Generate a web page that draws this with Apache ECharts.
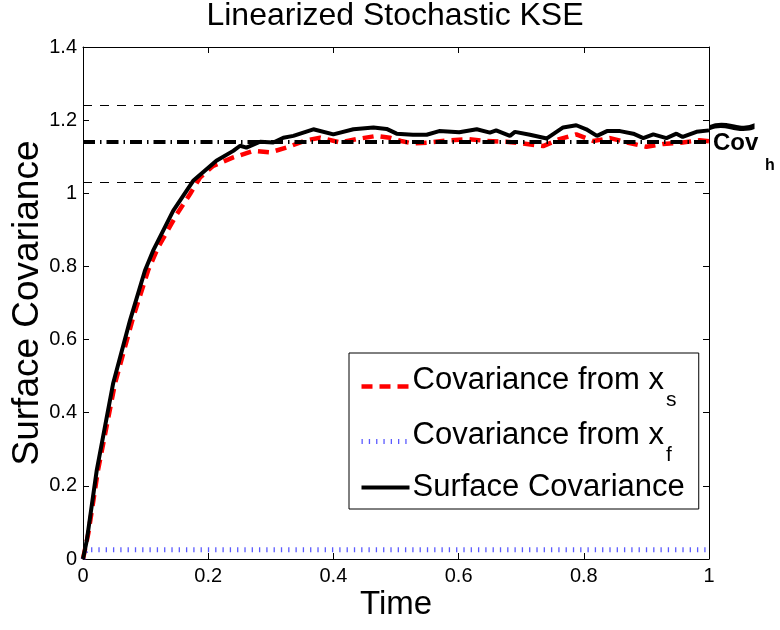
<!DOCTYPE html>
<html>
<head>
<meta charset="utf-8">
<script src="https://cdn.jsdelivr.net/npm/echarts@6/dist/echarts.min.js"></script>
<style>
  html, body { margin: 0; padding: 0; background: #fff; }
  #chart { width: 780px; height: 630px; }
</style>
</head>
<body>
<div id="chart"></div>
<script>
// Surface covariance of the linearized stochastic KSE over time
const timeSurface = [0, 0.006, 0.022, 0.048, 0.075, 0.099, 0.112, 0.144, 0.176, 0.213, 0.24, 0.251, 0.261,
  0.283, 0.304, 0.32, 0.336, 0.368, 0.4, 0.432, 0.464, 0.485, 0.501, 0.527, 0.549, 0.569, 0.601, 0.629,
  0.65, 0.66, 0.682, 0.69, 0.714, 0.741, 0.767, 0.788, 0.804, 0.821, 0.837, 0.858, 0.879, 0.895, 0.911,
  0.932, 0.948, 0.958, 0.98, 1.0];
const covSurface = [0, 0.05, 0.243, 0.479, 0.652, 0.789, 0.843, 0.952, 1.034, 1.089, 1.116, 1.13, 1.125,
  1.141, 1.139, 1.152, 1.157, 1.175, 1.161, 1.175, 1.18, 1.176, 1.163, 1.16, 1.16, 1.17, 1.167, 1.175,
  1.166, 1.172, 1.157, 1.168, 1.16, 1.15, 1.18, 1.186, 1.175, 1.157, 1.17, 1.17, 1.163, 1.151, 1.161,
  1.151, 1.163, 1.154, 1.168, 1.172];

const timeXs = [0, 0.0085, 0.024, 0.051, 0.08, 0.104, 0.12, 0.15, 0.171, 0.187, 0.208, 0.24, 0.272, 0.299,
  0.325, 0.357, 0.379, 0.411, 0.437, 0.469, 0.49, 0.508, 0.527, 0.554, 0.585, 0.617, 0.644, 0.676, 0.703,
  0.735, 0.761, 0.788, 0.815, 0.842, 0.869, 0.9, 0.927, 0.958, 0.985, 1.0];
const covXs = [0, 0.07, 0.243, 0.479, 0.66, 0.789, 0.852, 0.943, 0.998, 1.043, 1.075, 1.098, 1.116, 1.112,
  1.125, 1.145, 1.152, 1.139, 1.148, 1.157, 1.152, 1.143, 1.136, 1.139, 1.145, 1.148, 1.143, 1.141, 1.136,
  1.129, 1.148, 1.161, 1.143, 1.151, 1.139, 1.127, 1.135, 1.139, 1.145, 1.142];

const timeXf = [0, 0.005, 1.0];
const covXf = [0, 0.025, 0.025];

// homogeneous covariance and its +/- band
const covHomog = 1.135;
const covBand = [1.035, 1.235];

const xTicks = [0, 0.2, 0.4, 0.6, 0.8, 1];
const yTicks = [0, 0.2, 0.4, 0.6, 0.8, 1, 1.2, 1.4];

const seriesNames = ['Covariance from x_s', 'Covariance from x_f', 'Surface Covariance'];

const FONT = '"Liberation Sans", Arial, Helvetica, sans-serif';
const zip = (xs, ys) => xs.map((x, i) => [x, ys[i]]);

const chart = echarts.init(document.getElementById('chart'), null, { renderer: 'canvas' });

const axisCommon = {
  type: 'value',
  axisLine: { show: true, onZero: false, lineStyle: { color: '#000', width: 1 } },
  axisTick: { show: true, inside: true, length: 6, lineStyle: { color: '#000', width: 1 } },
  splitLine: { show: false }
};

const legendLabels = {
  'Covariance from x_s': '{m|Covariance from x}{s|s}',
  'Covariance from x_f': '{m|Covariance from x}{s|f}',
  'Surface Covariance': '{n|Surface Covariance}'
};

const option = {
  backgroundColor: '#fff',
  animation: false,
  title: {
    text: 'Linearized Stochastic KSE',
    left: 395,
    textAlign: 'center',
    top: 0,
    padding: 0,
    textStyle: { fontFamily: FONT, fontSize: 32, fontWeight: 'normal', color: '#000' }
  },
  grid: { left: 83, right: 71, top: 47, bottom: 71, containLabel: false, outerBoundsMode: 'none' },
  xAxis: [
    Object.assign({}, axisCommon, {
      min: xTicks[0], max: xTicks[xTicks.length - 1], interval: 0.2,
      position: 'bottom',
      name: 'Time', nameLocation: 'middle', nameGap: 29, nameMoveOverlap: false,
      nameTextStyle: { fontFamily: FONT, fontSize: 33, color: '#000' },
      axisLabel: { show: true, margin: 7, color: '#000', fontFamily: FONT, fontSize: 20 }
    }),
    Object.assign({}, axisCommon, {
      min: xTicks[0], max: xTicks[xTicks.length - 1], interval: 0.2,
      position: 'top', axisLabel: { show: false }
    })
  ],
  yAxis: [
    Object.assign({}, axisCommon, {
      min: yTicks[0], max: yTicks[yTicks.length - 1], interval: 0.2,
      position: 'left',
      name: 'Surface Covariance', nameLocation: 'middle', nameGap: 37, nameRotate: 90, nameMoveOverlap: false,
      nameTextStyle: { fontFamily: FONT, fontSize: 37, color: '#000' },
      axisLabel: { show: true, margin: 6, color: '#000', fontFamily: FONT, fontSize: 20 }
    }),
    Object.assign({}, axisCommon, {
      min: yTicks[0], max: yTicks[yTicks.length - 1], interval: 0.2,
      position: 'right', axisLabel: { show: false }
    })
  ],
  legend: {
    data: seriesNames,
    orient: 'vertical',
    left: 349,
    top: 353,
    padding: [9, 14, 6, 10],
    itemGap: 6,
    itemWidth: 48,
    itemHeight: 14,
    backgroundColor: '#fff',
    borderColor: '#000',
    borderWidth: 1,
    borderRadius: 0,
    selectedMode: false,
    itemStyle: { opacity: 0 },
    lineStyle: { width: 'inherit', type: 'inherit' },
    formatter: name => legendLabels[name],
    textStyle: {
      color: '#000', fontFamily: FONT, fontSize: 31, padding: [0, 0, 0, -2],
      rich: {
        m: { fontFamily: FONT, fontSize: 31, lineHeight: 31, color: '#000', padding: [0, 0, 12, 0] },
        s: { fontFamily: FONT, fontSize: 21, lineHeight: 21, color: '#000', padding: [28, 0, 0, 2] },
        n: { fontFamily: FONT, fontSize: 31, lineHeight: 41, color: '#000' }
      }
    }
  },
  series: [
    {
      name: seriesNames[0], type: 'line', data: zip(timeXs, covXs),
      symbol: 'none', z: 3,
      lineStyle: { color: '#ff0000', width: 4.5, type: [11, 7] },
      itemStyle: { color: '#ff0000' }
    },
    {
      name: seriesNames[1], type: 'line', data: zip(timeXf, covXf),
      symbol: 'none', z: 3,
      lineStyle: { color: 'rgba(50,50,255,0.8)', width: 5, type: [1.3, 6] },
      itemStyle: { color: 'rgba(50,50,255,0.8)' }
    },
    {
      name: seriesNames[2], type: 'line', data: zip(timeSurface, covSurface),
      symbol: 'none', z: 4,
      lineStyle: { color: '#000', width: 4 },
      itemStyle: { color: '#000' }
    },
    {
      name: 'bands', type: 'line', data: [], z: 2,
      markLine: {
        silent: true, symbol: 'none', label: { show: false },
        data: [
          { yAxis: covHomog, lineStyle: { color: '#000', width: 4, type: [12, 5, 1.5, 5] } },
          { yAxis: covBand[0], lineStyle: { color: '#000', width: 1, type: [9, 8] } },
          { yAxis: covBand[1], lineStyle: { color: '#000', width: 1, type: [9, 8] } }
        ]
      }
    }
  ]
};

chart.setOption(option);

// label for the homogeneous covariance line, placed at its right end
const end = chart.convertToPixel({ xAxisIndex: 0, yAxisIndex: 0 }, [xTicks[xTicks.length - 1], covHomog]);
chart.setOption({
  graphic: [
    {
      type: 'text', x: end[0] + 23, y: end[1] - 14, scaleX: 1.7, z: 10,
      style: { text: '~', fontFamily: FONT, fontSize: 52, fontWeight: 'bold', fill: '#000', align: 'center', verticalAlign: 'middle' }
    },
    {
      type: 'text', x: end[0] + 4, y: end[1] - 1, z: 10,
      style: { text: 'Cov', fontFamily: FONT, fontSize: 24, fontWeight: 'bold', fill: '#000', align: 'left', verticalAlign: 'middle' }
    },
    {
      type: 'text', x: end[0] + 56, y: end[1] + 22, z: 10,
      style: { text: 'h', fontFamily: FONT, fontSize: 16, fontWeight: 'bold', fill: '#000', align: 'left', verticalAlign: 'middle' }
    }
  ]
});
</script>
</body>
</html>
